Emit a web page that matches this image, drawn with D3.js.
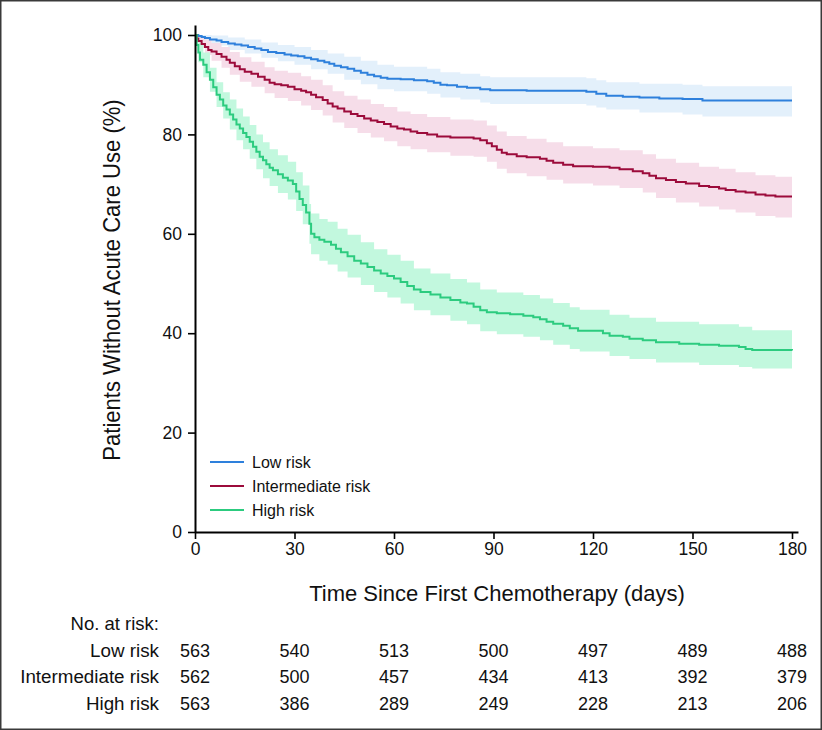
<!DOCTYPE html>
<html><head><meta charset="utf-8">
<script src="https://cdn.jsdelivr.net/npm/d3@7/dist/d3.min.js"></script>
<style>
html,body{margin:0;padding:0;background:#fff;}
svg text{font-family:"Liberation Sans",Arial,Helvetica,sans-serif;fill:#111;}
</style></head>
<body>
<svg id="c" width="822" height="730"></svg>
<script>
// ---------- DATA ----------
const seriesNames = ["Low risk", "Intermediate risk", "High risk"];
const xTicks = [0, 30, 60, 90, 120, 150, 180];
const yTicks = [0, 20, 40, 60, 80, 100];
const atRiskLow = [563, 540, 513, 500, 497, 489, 488];
const atRiskInt = [562, 500, 457, 434, 413, 392, 379];
const atRiskHigh = [563, 386, 289, 249, 228, 213, 206];

// KM estimates [day, % without acute care]
const lowLine = [[0,100],[1,99.8],[2,99.6],[3,99.4],[4.5,99.1],[6.5,98.9],[8,98.6],[10,98.3],[12,98.1],[14,97.9],[16,97.6],[18,97.3],[20,97],[22,96.6],[24.5,96.4],[27,96.1],[29,95.9],[31,95.7],[33,95.4],[35,95.1],[37,94.8],[39,94.5],[40.5,94.2],[42,93.8],[44,93.5],[46,93.2],[48,92.8],[50,92.4],[52,92],[54,91.7],[56,91.4],[58,91.2],[62,91.1],[66,90.9],[70,90.7],[72,90.4],[74,90],[76,89.9],[79,89.6],[82,89.4],[86,89.1],[89,88.9],[100,88.8],[118,88.6],[121,88.2],[124,87.8],[129,87.6],[134,87.4],[140,87.2],[147,87.1],[153,86.8],[180,86.8]];
const intLine = [[0,100],[0.5,99.3],[1,98.8],[2,98.2],[3,97.6],[4,97],[5,96.7],[6.5,96.2],[8,95.6],[9.5,95],[10.5,94.4],[12,93.7],[13.5,93.1],[15,92.6],[17,92.2],[19,91.6],[21,91],[22.5,90.4],[24,90.1],[26,89.9],[28,89.6],[30,89.1],[32,88.8],[33.5,88.5],[35,88],[36.5,87.5],[38.5,86.9],[40,86.2],[41.5,85.6],[43,85.2],[45,84.6],[47,84.1],[49,83.7],[51,83.2],[53,82.8],[55,82.5],[57,82.1],[59,81.6],[61,81.2],[63,81],[65,80.6],[67,80.3],[70,80],[73,79.6],[77,79.4],[84,79.2],[86,78.8],[88,78.2],[89.5,77.6],[91,76.9],[92.5,76.3],[94,76],[97,75.6],[100,75.4],[104,75.1],[106,74.7],[108,74.3],[111,73.9],[114,73.6],[120,73.5],[125,73.3],[128,73],[132,72.6],[135,72.2],[137,71.7],[139,71.2],[142,70.8],[145,70.4],[148,70.1],[152,69.6],[155,69.4],[158,69.1],[160,68.8],[163,68.5],[166,68.3],[169,67.9],[172,67.7],[175,67.5],[180,67.5]];
const highLine = [[0,100],[0.5,98],[1,96.5],[1.5,95],[2.5,94],[3.5,92.5],[4.5,91],[5.5,89.5],[6.5,88],[7.5,87],[8.5,85.8],[9.5,85],[10.5,84],[11.5,83],[12.5,82],[13.5,81.2],[14.5,80.3],[15.5,79.5],[16.5,78.5],[17.5,77.5],[18.5,76.5],[19.5,75.5],[20.5,74.8],[21.5,74],[22.5,73.3],[23.5,72.8],[25,72],[26.5,71.3],[28,70.7],[29.5,70],[30.5,68.5],[31.5,67],[32.5,65.8],[33.5,64.3],[34.5,62],[35,60],[36,59.3],[37.5,58.8],[39,58.4],[41,57.8],[42.5,57],[44,56.3],[46,55.5],[48,54.6],[50,54],[52,53.3],[54,52.6],[56,52],[58,51.5],[60,51],[62,50.3],[64,49.5],[66,48.8],[68,48.3],[71,47.8],[74,47.2],[77,46.7],[80,46.2],[82,46],[84,45.3],[86,44.6],[88,44.2],[91,44],[95,43.8],[99,43.5],[102,43.2],[104,42.8],[106,42.3],[108,41.9],[111,41.5],[113,41],[115.5,40.5],[123,40],[125,39.5],[129,39.3],[131,38.9],[135,38.6],[139,38.2],[146,37.9],[152,37.7],[158,37.5],[164,37.2],[166,36.8],[168,36.6],[180,36.5]];

// 95% CI bands [day, lower, upper]
const lowBand = [[0,100,100],[2,98.8,100],[5,97.9,99.9],[10,97,99.5],[15,96.3,99.1],[20,95.4,98.5],[25,94.7,98],[30,94,97.6],[35,93.1,97],[40,92.2,96.3],[45,91,95.6],[50,90.1,94.8],[55,89.1,94],[60,88.7,93.6],[70,88.2,93.2],[74,87.4,92.5],[80,87,92.2],[86,86.4,91.7],[89,86.1,91.5],[118,85.8,91.3],[121,85.4,90.9],[124,85,90.5],[134,84.4,90.2],[147,84,90],[153,83.6,89.7],[180,83.6,89.7]];
const intBand = [[0,100,100],[1,97.5,99.8],[3,96,99.1],[5,94.8,98.4],[8,93.4,97.6],[10.5,92,96.6],[13.5,90.6,95.5],[17,89.6,94.6],[21,88.3,93.5],[24,87.3,92.8],[28,86.7,92.4],[32,85.8,91.7],[35,84.9,91],[38.5,83.8,89.9],[41.5,82.4,88.7],[45,81.3,87.8],[49,80.3,87],[53,79.4,86.1],[57,78.6,85.5],[61,77.6,84.6],[65,77,84.1],[70,76.4,83.5],[77,75.7,83],[84,75.5,82.8],[88,74.5,81.8],[91,73.1,80.6],[94,72.2,79.7],[100,71.6,79.1],[106,70.9,78.4],[111,70.1,77.6],[120,69.7,77.2],[128,69.2,76.8],[135,68.3,76],[139,67.2,75.1],[145,66.3,74.3],[152,65.5,73.5],[158,64.9,73.1],[163,64.3,72.4],[169,63.6,71.8],[175,63.3,71.5],[180,63.3,71.5]];
const highBand = [[0,100,100],[1,94.5,98.5],[2.5,91.5,96.5],[4.5,88.6,93.4],[6.5,85.5,90.5],[8.5,83.2,88.5],[10.5,81,87],[12.5,78.8,85.2],[14.5,77,83.6],[16.5,75.1,81.9],[18.5,73,80],[20.5,71.2,78.4],[22.5,69.6,77],[25,68.2,75.8],[28,66.9,74.5],[30.5,64.6,72.4],[32.5,61.9,69.7],[34.5,58,66],[35,55.9,64.1],[37.5,54.6,63],[40,53.8,62.4],[43,52.4,61],[46,51.2,59.8],[50,49.7,58.3],[54,48.3,56.9],[58,47.2,55.8],[62,46,54.6],[66,44.6,53],[71,43.6,52],[77,42.5,50.9],[82,41.8,50.2],[86,40.4,48.8],[91,39.8,48.2],[99,39.3,47.7],[104,38.6,47],[108,37.7,46.1],[113,36.8,45.2],[116,36.3,44.7],[125,35.4,43.7],[131,34.8,43.1],[139,34.1,42.3],[152,33.6,41.8],[164,33.2,41.3],[168,32.9,40.6],[180,32.9,40.6]];

const lineColors = ["#2e80dc", "#9c0b3b", "#2ccb7f"];
const bandColors = ["#e3f0fb", "#f6dde9", "#c2f8de"];

// ---------- DRAW ----------
const svg = d3.select("#c");
const x = d3.scaleLinear().domain([0, 180]).range([195, 792]);
const y = d3.scaleLinear().domain([0, 100]).range([532, 35]);

// frame
svg.append("rect").attr("x", 0.75).attr("y", 0.75).attr("width", 820.5).attr("height", 728.5)
  .attr("fill", "none").attr("stroke", "#3a3a3a").attr("stroke-width", 1.5);

const lines = [lowLine, intLine, highLine];
const bands = [lowBand, intBand, highBand];

const area = d3.area().curve(d3.curveStepAfter)
  .x(d => x(d[0])).y0(d => y(d[1])).y1(d => y(d[2]));
const line = d3.line().curve(d3.curveStepAfter)
  .x(d => x(d[0])).y(d => y(d[1]));

bands.forEach((b, i) => {
  svg.append("path").datum(b).attr("d", area).attr("fill", bandColors[i]).attr("stroke", "none");
});
lines.forEach((l, i) => {
  svg.append("path").datum(l).attr("d", line).attr("fill", "none")
    .attr("stroke", lineColors[i]).attr("stroke-width", 2);
});

// axes
const xAxisScale = x.copy().domain([0, 181.8]).range([x(0), x(181.8)]);
const yAxisScale = y.copy().domain([0, 102]).range([y(0), y(102)]);
const gx = svg.append("g").attr("transform", `translate(0,${y(0)})`)
  .call(d3.axisBottom(xAxisScale).tickValues(xTicks).tickSize(7).tickSizeOuter(0).tickPadding(4));
const gy = svg.append("g").attr("transform", `translate(${x(0)},0)`)
  .call(d3.axisLeft(yAxisScale).tickValues(yTicks).tickSize(7).tickSizeOuter(0).tickPadding(6));
[gx, gy].forEach(g => {
  g.select(".domain").attr("stroke", "#000").attr("stroke-width", 2);
  g.selectAll(".tick line").attr("stroke", "#000").attr("stroke-width", 1.6);
  g.selectAll(".tick text").attr("font-size", 17.5).attr("fill", "#111")
    .attr("font-family", "Liberation Sans, Arial, sans-serif");
});

// axis titles
svg.append("text").attr("x", 497).attr("y", 601).attr("text-anchor", "middle")
  .attr("font-size", 22).text("Time Since First Chemotherapy (days)");
svg.append("text").attr("transform", `translate(120,280) rotate(-90) scale(0.9,1)`)
  .attr("text-anchor", "middle").attr("font-size", 24.5).text("Patients Without Acute Care Use (%)");

// legend
const legY = [462, 486, 510];
seriesNames.forEach((n, i) => {
  svg.append("line").attr("x1", 210).attr("x2", 244).attr("y1", legY[i]).attr("y2", legY[i])
    .attr("stroke", lineColors[i]).attr("stroke-width", 2);
  svg.append("text").attr("x", 252).attr("y", legY[i]).attr("dy", "0.35em")
    .attr("font-size", 16).text(n);
});

// number at risk table
svg.append("text").attr("x", 159).attr("y", 630).attr("text-anchor", "end")
  .attr("font-size", 18.5).text("No. at risk:");
const rows = [atRiskLow, atRiskInt, atRiskHigh];
const rowY = [656.5, 683, 709.5];
rows.forEach((r, i) => {
  svg.append("text").attr("x", 159).attr("y", rowY[i]).attr("text-anchor", "end")
    .attr("font-size", 18.8).text(seriesNames[i]);
  svg.selectAll(null).data(r).enter().append("text")
    .attr("x", (d, j) => x(xTicks[j])).attr("y", rowY[i]).attr("text-anchor", "middle")
    .attr("font-size", 18).text(d => d);
});
</script>
</body></html>
